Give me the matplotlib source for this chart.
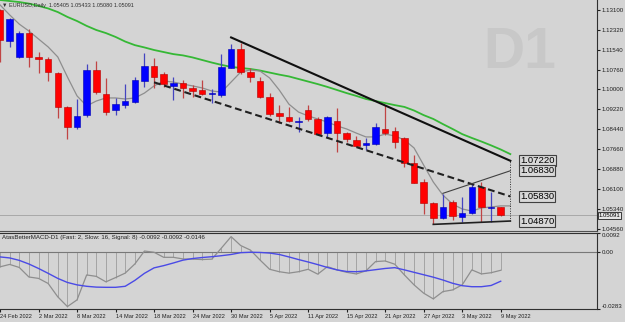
import matplotlib
matplotlib.use("Agg")
import matplotlib.pyplot as plt
import numpy as np

# EURUSD daily bars, 24 Feb 2022 .. 9 May 2022
opens = [1.1310, 1.1190, 1.1126, 1.1221, 1.1125, 1.1119, 1.1064, 1.0930, 1.0853, 1.0899,
         1.1076, 1.0982, 1.0920, 1.0939, 1.0952, 1.1034, 1.1093, 1.1059, 1.1015, 1.1024,
         1.1007, 1.0998, 1.0984, 1.0978, 1.1085, 1.1157, 1.1069, 1.1033, 1.0972, 1.0907,
         1.0894, 1.0873, 1.0920, 1.0884, 1.0829, 1.0877, 1.0829, 1.0803, 1.0784, 1.0787,
         1.0846, 1.0838, 1.0810, 1.0714, 1.0638, 1.0556, 1.0498, 1.0563, 1.0501, 1.0519,
         1.0621, 1.0538, 1.05405]
highs = [1.1312, 1.1279, 1.1228, 1.1235, 1.1145, 1.1126, 1.1068, 1.0934, 1.0962, 1.1099,
         1.1111, 1.1044, 1.0966, 1.1021, 1.1050, 1.1141, 1.1122, 1.1069, 1.1050, 1.1037,
         1.1018, 1.1037, 1.1001, 1.1137, 1.1176, 1.1180, 1.1083, 1.1050, 1.0985, 1.0939,
         1.0933, 1.0894, 1.0939, 1.0892, 1.0897, 1.0927, 1.0835, 1.0820, 1.0810, 1.0870,
         1.0939, 1.0853, 1.0815, 1.0745, 1.0650, 1.0563, 1.0592, 1.0569, 1.0580, 1.0631,
         1.0640, 1.0601, 1.05433]
lows = [1.1106, 1.1166, 1.1123, 1.1089, 1.1063, 1.1034, 1.0888, 1.0806, 1.0847, 1.0891,
        1.0982, 1.0900, 1.0900, 1.0927, 1.0946, 1.1011, 1.1005, 1.1011, 1.0959, 1.0966,
        1.0972, 1.0979, 1.0946, 1.0972, 1.1083, 1.1059, 1.1028, 1.0966, 1.0898, 1.0868,
        1.0872, 1.0835, 1.0878, 1.0822, 1.0816, 1.0757, 1.0796, 1.0777, 1.0764, 1.0784,
        1.0822, 1.0771, 1.0697, 1.0634, 1.0514, 1.0475, 1.0495, 1.0491, 1.0484, 1.0514,
        1.0484, 1.0484, 1.05080]
closes = [1.1193, 1.1275, 1.1219, 1.1126, 1.1119, 1.1067, 1.0933, 1.0854, 1.0897, 1.1076,
          1.0989, 1.0912, 1.0942, 1.0955, 1.1037, 1.1093, 1.1050, 1.1020, 1.1027, 1.1007,
          1.0995, 1.0982, 1.0988, 1.1089, 1.1157, 1.1067, 1.1050, 1.0972, 1.0904, 1.0897,
          1.0878, 1.0877, 1.0885, 1.0826, 1.0892, 1.0829, 1.0807, 1.0781, 1.0793, 1.0855,
          1.0832, 1.0796, 1.0712, 1.0636, 1.0558, 1.0498, 1.0543, 1.0507, 1.0519, 1.0621,
          1.0541, 1.0543, 1.05091]

# moving averages, drawn one bar forward (54 points)
ma_slow = [1.1349, 1.1345, 1.1341, 1.1335, 1.1326, 1.1316, 1.1302, 1.1283, 1.1267, 1.1248,
           1.1232, 1.1220, 1.1205, 1.1187, 1.1173, 1.1164, 1.1154, 1.1146, 1.1138, 1.1133,
           1.1125, 1.1115, 1.1105, 1.1096, 1.1088, 1.1084, 1.1080, 1.1074, 1.1066, 1.1058,
           1.1051, 1.1041, 1.1031, 1.1021, 1.1010, 1.0998, 1.0986, 1.0975, 1.0963, 1.0955,
           1.0947, 1.0939, 1.0932, 1.0918, 1.0900, 1.0885, 1.0865, 1.0846, 1.0826, 1.0811,
           1.0797, 1.0782, 1.0766, 1.0748]
ma_fast = [1.1330, 1.1291, 1.1255, 1.1228, 1.1197, 1.1166, 1.1127, 1.1049, 1.0975, 1.0936,
           1.0955, 1.0967, 1.0967, 1.0963, 1.0967, 1.0986, 1.1014, 1.1033, 1.1029, 1.1021,
           1.1014, 1.1006, 1.0994, 1.0990, 1.1029, 1.1068, 1.1076, 1.1072, 1.1045, 1.0998,
           1.0943, 1.0912, 1.0897, 1.0885, 1.0873, 1.0858, 1.0846, 1.0830, 1.0815, 1.0815,
           1.0826, 1.0819, 1.0803, 1.0772, 1.0705, 1.0639, 1.0588, 1.0553, 1.0534, 1.0526,
           1.0538, 1.0542, 1.0546, 1.0546]

# AtasBetterMACD (2, 16, 8)
macd = [-0.0075, -0.0063, -0.0078, -0.0125, -0.0132, -0.0157, -0.0223, -0.0271, -0.0238, -0.0115,
        -0.0122, -0.0149, -0.0128, -0.0106, -0.0061, 0.0003, -0.0003, -0.0028, -0.0028, -0.0036,
        -0.0037, -0.0039, -0.0037, 0.0018, 0.0074, 0.0030, 0.0008, -0.0041, -0.0087, -0.0099,
        -0.0106, -0.0099, -0.0087, -0.0111, -0.0074, -0.0090, -0.0102, -0.0110, -0.0095, -0.0049,
        -0.0046, -0.0062, -0.0115, -0.0164, -0.0205, -0.0233, -0.0197, -0.0189, -0.0164, -0.0090,
        -0.0110, -0.0104, -0.0092]
signal = [-0.0026, -0.0031, -0.0043, -0.0061, -0.0083, -0.0107, -0.0132, -0.0152, -0.0164, -0.0171,
          -0.0175, -0.0176, -0.0176, -0.0171, -0.0142, -0.0107, -0.0080, -0.0069, -0.0056, -0.0042,
          -0.0034, -0.0029, -0.0025, -0.0020, -0.0014, -0.0005, -0.0003, -0.0004, -0.0007, -0.0014,
          -0.0026, -0.0039, -0.0051, -0.0064, -0.0078, -0.0090, -0.0098, -0.0099, -0.0095, -0.0089,
          -0.0083, -0.0079, -0.0090, -0.0102, -0.0114, -0.0126, -0.0140, -0.0156, -0.0168, -0.0173,
          -0.0173, -0.0167, -0.0146]

date_labels = ["24 Feb 2022", "2 Mar 2022", "8 Mar 2022", "14 Mar 2022", "18 Mar 2022",
               "24 Mar 2022", "30 Mar 2022", "5 Apr 2022", "11 Apr 2022", "15 Apr 2022",
               "21 Apr 2022", "27 Apr 2022", "3 May 2022", "9 May 2022"]
price_ticks = [1.13100, 1.12320, 1.11540, 1.10760, 1.10000, 1.09220, 1.08440,
               1.07660, 1.06880, 1.06100, 1.05340, 1.04560]

# drawn objects: (bar, price) anchors
trend_upper = [(24, 1.1203), (53, 1.0722)]
trend_dashed = [(16, 1.1028), (53, 1.0583)]
wedge_top = [(46, 1.0595), (53, 1.0683)]
wedge_bottom = [(45, 1.0474), (53, 1.0487)]
level_labels = [1.07220, 1.06830, 1.05830, 1.04870]

BG = "#d4d4d4"
plt.rcParams["font.family"] = ["Liberation Sans", "DejaVu Sans"]

fig = plt.figure(figsize=(6.25, 3.22), dpi=100, facecolor=BG)
ax = fig.add_axes([0, 91 / 322, 597 / 625, 231 / 322], facecolor=BG)
ax2 = fig.add_axes([0, 13 / 322, 597 / 625, 76 / 322], facecolor=BG, sharex=ax)

x = np.arange(len(opens))
o, h, l, c = (np.array(v) for v in (opens, highs, lows, closes))
up = c >= o

# watermark
ax.text(0.871, 0.77, "D1", transform=ax.transAxes, fontsize=41, fontweight="bold",
        color="#c8c8c8", ha="center", va="center", zorder=0)

ax.axhline(closes[-1], color="#a8a8a8", lw=0.7, zorder=1)

xm = np.arange(len(ma_slow))
ax.plot(xm, ma_slow, color="#35b835", lw=1.3, zorder=2)
ax.plot(xm, ma_fast, color="#8e8e8e", lw=0.9, zorder=2)

ax.vlines(x, l, h, colors=np.where(up, "#4444c0", "#c04444"), lw=0.9, zorder=3)
ax.bar(x, np.maximum(np.abs(c - o), 0.0001), bottom=np.minimum(o, c), width=0.68,
       color=np.where(up, "#0000ff", "#ff0000"), edgecolor=np.where(up, "#0000b0", "#b00000"),
       lw=0.4, zorder=4)

# trendlines
(a, b) = trend_upper
ax.plot([a[0], b[0]], [a[1], b[1]], color="#101010", lw=1.5, zorder=5)
(a, b) = trend_dashed
ax.plot([a[0], b[0]], [a[1], b[1]], color="#202020", lw=1.5, ls=(0, (3.3, 1.8)), zorder=5)
(a, b) = wedge_top
ax.plot([a[0], b[0]], [a[1], b[1]], color="#404040", lw=0.8, zorder=5)
(a, b) = wedge_bottom
ax.plot([a[0], b[0]], [a[1], b[1]], color="#202020", lw=1.2, zorder=5)
ax.vlines(53, level_labels[-1], level_labels[0], colors="#303030", lw=0.7, ls=(0, (1, 1.5)), zorder=5)

for lv in level_labels:
    ax.text(54.0, lv, f"{lv:.5f}", fontsize=6.8, color="#000000", ha="left", va="center", zorder=6,
            bbox=dict(boxstyle="square,pad=0.12", fc="#d8d8d8", ec="#404040", lw=0.8))

ax.text(0.003, 0.978, "\u25bc EURUSD,Daily  1.05405 1.05433 1.05080 1.05091", transform=ax.transAxes,
        fontsize=4.0, color="#303030", ha="left", va="center", family=["Liberation Sans", "DejaVu Sans"])

# bid label on the axis
ax.text(1.003, closes[-1], f"{closes[-1]:.5f}", transform=ax.get_yaxis_transform(), fontsize=4.3,
        ha="left", va="center", clip_on=False, zorder=7,
        bbox=dict(boxstyle="square,pad=0.15", fc="#e6e6e6", ec="#202020", lw=0.6))

ax.set_xlim(0.104, 62.0)
ax.set_ylim(1.04481, 1.1349)
ax.yaxis.tick_right()
ax.set_yticks(price_ticks)
ax.set_yticklabels([f"{v:.5f}" for v in price_ticks])
ax.tick_params(axis="y", labelsize=4.4, length=2, pad=1.5, colors="#202020")
ax.tick_params(axis="x", bottom=False, labelbottom=False)
for s in ("top", "left"):
    ax.spines[s].set_visible(False)
ax.spines["bottom"].set_color("#505050")
ax.spines["right"].set_color("#303030")
ax.spines["right"].set_linewidth(0.8)

# MACD window
ax2.vlines(x, 0, macd, colors="#a4a4a4", lw=0.7, zorder=1)
ax2.axhline(0, color="#787878", lw=0.8, zorder=1)
ax2.plot(x, macd, color="#8e8e8e", lw=0.9, zorder=2)
ax2.plot(x, signal, color="#4a4ae6", lw=1.0, zorder=3)
ax2.text(0.003, 0.947, "AtasBetterMACD-D1 (Fast: 2, Slow: 16, Signal: 8) -0.0092 -0.0092 -0.0146",
         transform=ax2.transAxes, fontsize=4.45, color="#202020", ha="left", va="center")
ax2.set_ylim(-0.0283, 0.0092)
ax2.yaxis.tick_right()
ax2.set_yticks([0.0092, 0.0, -0.0283])
ax2.set_yticklabels(["0.0092", "0.00", "-0.0283"])
ylabs = ax2.get_yticklabels()
ylabs[0].set_va("top")
ylabs[2].set_va("bottom")
ax2.tick_params(axis="y", labelsize=4.4, length=2, pad=1.5, colors="#202020")
ax2.set_xticks(np.arange(0, len(opens), 4))
ax2.set_xticklabels(date_labels, ha="left")
ax2.tick_params(axis="x", labelsize=4.1, length=2, pad=1.5, colors="#202020")
ax2.spines["left"].set_visible(False)
for s in ("top", "bottom", "right"):
    ax2.spines[s].set_color("#303030")
    ax2.spines[s].set_linewidth(0.8)

fig.savefig("out.png", dpi=100, facecolor=BG)
